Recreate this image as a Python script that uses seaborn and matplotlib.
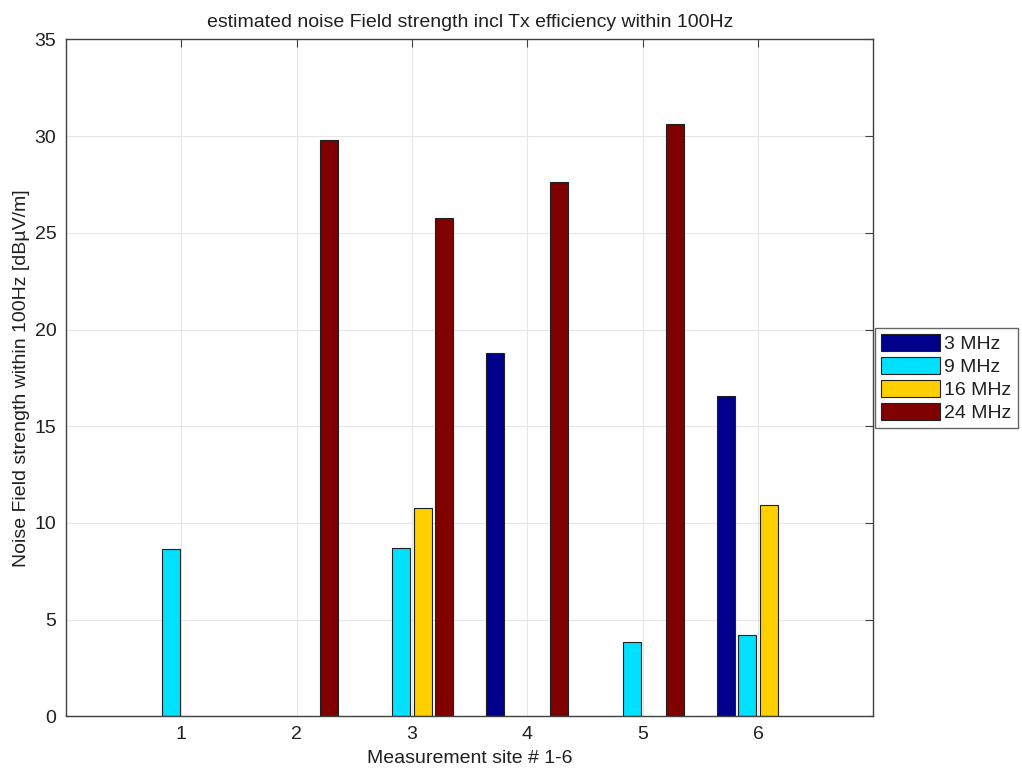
import numpy as np
import pandas as pd
import matplotlib
matplotlib.use("Agg")
import matplotlib.pyplot as plt
import seaborn as sns

# values (NaN = no bar)
sites = [1, 2, 3, 4, 5, 6]
freqs = ["3 MHz", "9 MHz", "16 MHz", "24 MHz"]
mhz3 = [np.nan, np.nan, np.nan, 18.8, np.nan, 16.55]
mhz9 = [8.65, np.nan, 8.7, np.nan, 3.87, 4.2]
mhz16 = [np.nan, np.nan, 10.75, np.nan, np.nan, 10.92]
mhz24 = [np.nan, 29.8, 25.75, 27.65, 30.65, np.nan]
colors = ["#00008C", "#00E0FF", "#FFCF00", "#800000"]

df = pd.DataFrame({"site": sites, "3 MHz": mhz3, "9 MHz": mhz9,
                   "16 MHz": mhz16, "24 MHz": mhz24})
long = df.melt(id_vars="site", var_name="freq", value_name="level")

sns.set_style("white")
plt.rcParams["font.family"] = ["Liberation Sans", "DejaVu Sans"]

fig = plt.figure(figsize=(10.22, 7.72), dpi=100)
ax = fig.add_axes([0.0646, 0.072, 0.790, 0.877])

sns.barplot(data=long, x="site", y="level", hue="freq", hue_order=freqs,
            palette=colors, saturation=1, native_scale=True, width=0.74,
            gap=0.15, errorbar=None, edgecolor="#202020", linewidth=0.8, ax=ax)

ax.set_xlim(0, 7)
ax.set_ylim(0, 35)
ax.set_xticks(sites)
ax.set_xticklabels([str(s) for s in sites])
ax.set_yticks(range(0, 36, 5))
ax.grid(True, color="#e6e6e6", linewidth=0.8)
ax.set_axisbelow(True)
for sp in ax.spines.values():
    sp.set_color("#404040")
    sp.set_linewidth(1.0)
ax.tick_params(direction="in", length=6, width=0.8, color="#404040",
               top=True, right=True, labelsize=14, labelcolor="#202020", pad=7)

ax.set_title("estimated noise Field strength incl Tx efficiency within 100Hz",
             fontsize=14, pad=9, color="#202020")
ax.set_xlabel("Measurement site # 1-6", fontsize=14, labelpad=5, color="#202020")
ax.set_ylabel("Noise Field strength within 100Hz [dB\u00b5V/m]", fontsize=14,
              labelpad=3, color="#202020")

ax.legend(loc="center left", bbox_to_anchor=(1.0, 0.5), fontsize=14,
          frameon=True, fancybox=False, edgecolor="#404040",
          handlelength=3.0, handleheight=0.95, labelspacing=0.2,
          borderpad=0.3, handletextpad=0.25, borderaxespad=0.1,
          labelcolor="#202020")

fig.savefig("out.png", dpi=100)
